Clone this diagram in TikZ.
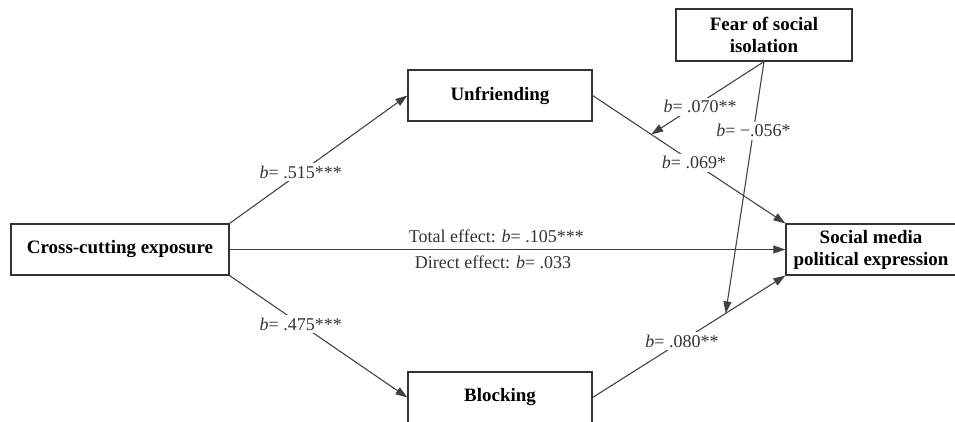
\documentclass[tikz,border=0pt]{standalone}
\usepackage{fontspec}
\setmainfont{Liberation Serif}
\usetikzlibrary{arrows.meta}
\begin{document}
\begin{tikzpicture}[x=0.75pt,y=-0.75pt,
  box/.style={draw=black!80, line width=0.9pt, fill=white, align=center, inner sep=0pt,
    font=\fontsize{14.2pt}{16.5pt}\selectfont\bfseries, minimum height=38.25pt},
  arr/.style={draw=black!75, line width=0.8pt, -{Triangle[length=9pt,width=6pt]}},
  lbl/.style={fill=white, inner sep=2pt, font=\fontsize{13.5pt}{16pt}\selectfont, text=black!80},
  plain/.style={fill=none, inner sep=4.5pt, font=\fontsize{13.5pt}{16pt}\selectfont, text=black!80}]
\useasboundingbox (0,0) rectangle (955,421);
\node[box, minimum width=163.5pt] (cce) at (120,249.5) {Cross-cutting exposure};
\node[box, minimum width=138pt] (unf) at (500,95.5) {Unfriending};
\node[box, minimum width=138pt] (blk) at (500,397.5) {Blocking};
\node[box, minimum width=132pt, minimum height=39pt] (fear) at (764,35) {Fear of social\\isolation};
\node[box, minimum width=127.5pt] (smpe) at (871,249.5) {Social media\\political expression};

\draw[arr] (cce.north east) -- node[lbl, pos=0.4] {\textit{b}= .515***} (unf.west);
\draw[arr] (cce.south east) -- node[lbl, pos=0.4] {\textit{b}= .475***} (blk.west);
\draw[arr] (cce.east) -- node[plain, pos=0.48, anchor=south] {Total effect: \textit{b}= .105***}
  node[plain, pos=0.474, anchor=north] {Direct effect: \textit{b}= .033} (smpe.west);
\draw[arr] (unf.east) -- coordinate[pos=0.304] (m1) node[lbl, pos=0.526] {\textit{b}= .069*} (smpe.north west);
\draw[arr] (blk.east) -- coordinate[pos=0.69] (m2) node[lbl, pos=0.464] {\textit{b}= .080**} (smpe.south west);
\draw[arr] (fear.south) -- node[lbl, pos=0.566, yshift=-3pt] {\textit{b}= .070**} (m1);
\draw[arr] (fear.south) -- node[lbl, pos=0.274] {\textit{b}= −.056*} (m2);
\end{tikzpicture}
\end{document}
